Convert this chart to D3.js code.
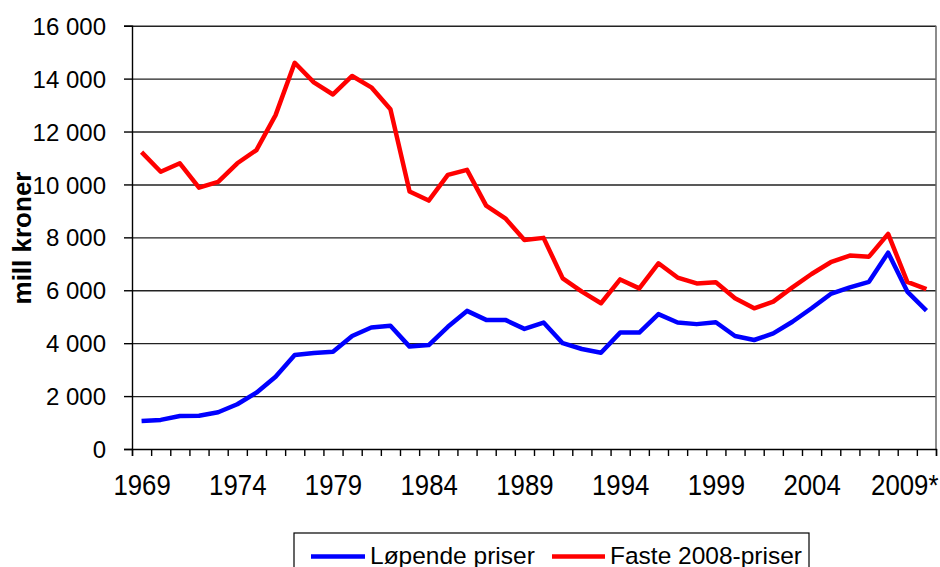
<!DOCTYPE html>
<html>
<head>
<meta charset="utf-8">
<script src="https://cdn.jsdelivr.net/npm/d3@7"></script>
<style>
  html, body { margin: 0; padding: 0; background: #fff; }
  svg { display: block; }
  text { font-family: "Liberation Sans", Arial, sans-serif; fill: #000; }
</style>
</head>
<body>
<svg id="chart" width="940" height="567"></svg>
<script>
const years = d3.range(1969, 2011);
const xTickLabels = ["1969", "1974", "1979", "1984", "1989", "1994", "1999", "2004", "2009*"];
const yTicks = [0, 2000, 4000, 6000, 8000, 10000, 12000, 14000, 16000];

const lopende = [1060, 1100, 1250, 1260, 1390, 1690, 2130, 2730, 3550, 3630,
  3680, 4270, 4590, 4660, 3870, 3930, 4620, 5220, 4880, 4880,
  4540, 4780, 4000, 3780, 3640, 4400, 4400, 5100, 4780, 4720,
  4790, 4270, 4120, 4370, 4810, 5320, 5860, 6110, 6320, 7420,
  5950, 5230];

const faste = [11220, 10480, 10800, 9880, 10100, 10800, 11300, 12620, 14600, 13860,
  13400, 14100, 13670, 12840, 9730, 9390, 10360, 10550, 9200, 8720,
  7900, 7980, 6450, 5950, 5510, 6410, 6070, 7020, 6480, 6260,
  6300, 5700, 5320, 5570, 6110, 6615, 7060, 7310, 7270, 8130,
  6320, 6040];

const seriesNames = ["Løpende priser", "Faste 2008-priser"];
const seriesColors = ["#0000ff", "#ff0000"];

(function () {
const svg = d3.select("#chart");
const pL = 132, pR = 936, pT = 25.7, pB = 449;

const x = d3.scaleLinear().domain([0, years.length]).range([pL, pR]);
const y = d3.scaleLinear().domain([0, 16000]).range([pB, pT]);

const locale = d3.formatLocale({ decimal: ",", thousands: " ", grouping: [3] });
const fmt = locale.format(",d");

// gridlines
svg.append("g")
  .attr("transform", `translate(${pL},0)`)
  .call(d3.axisLeft(y).tickValues(yTicks.filter(d => d > 0)).tickSize(-(pR - pL)).tickFormat(""))
  .call(g => g.select(".domain").remove())
  .call(g => g.selectAll("line").attr("stroke", "#222").attr("stroke-width", 1.4));

// right border
svg.append("line").attr("x1", pR).attr("x2", pR).attr("y1", pT).attr("y2", pB)
  .attr("stroke", "#666").attr("stroke-width", 1.5);

// y axis
svg.append("g")
  .attr("transform", `translate(${pL},0)`)
  .call(d3.axisLeft(y).tickValues(yTicks).tickSize(8).tickFormat(fmt).tickPadding(18))
  .call(g => g.select(".domain").attr("stroke", "#000").attr("stroke-width", 1.4))
  .call(g => g.selectAll("line").attr("stroke", "#000").attr("stroke-width", 1.4))
  .call(g => g.selectAll("text").style("font-size", "24px").attr("fill", "#000").attr("dy", "0.36em"));

// x axis ticks
svg.append("g")
  .attr("transform", `translate(0,${pB})`)
  .call(d3.axisBottom(x).tickValues(d3.range(0, years.length + 1)).tickSize(7).tickFormat(""))
  .call(g => g.select(".domain").attr("stroke", "#000").attr("stroke-width", 1.4))
  .call(g => g.selectAll("line").attr("stroke", "#000").attr("stroke-width", 1.4));

// x labels
const labelIdx = xTickLabels.map((d, i) => i * 5);
const sx = 0.86;
const xl = svg.append("g")
  .attr("transform", `translate(0,${pB})`)
  .call(d3.axisBottom(x).tickValues(labelIdx.map(i => i + 0.5)).tickSize(0).tickFormat((d, i) => xTickLabels[i]))
  .call(g => g.select(".domain").remove());
xl.selectAll(".tick text")
  .style("font-size", "30px")
  .attr("dy", 0)
  .attr("y", 0)
  .attr("fill", "#000")
  .attr("transform", `translate(0,46) scale(${sx},1)`)
  .attr("text-anchor", "middle");
// last label is pushed inside the chart edge, as in the original
const lastVal = labelIdx[labelIdx.length - 1] + 0.5;
xl.selectAll(".tick text").filter(d => d === lastVal)
  .attr("text-anchor", "end")
  .attr("x", (938 - x(lastVal)) / sx);

// lines
const line = d3.line().x((d, i) => x(i + 0.5)).y(d => y(d));
[lopende, faste].forEach((s, k) => {
  svg.append("path").datum(s)
    .attr("fill", "none")
    .attr("stroke", seriesColors[k])
    .attr("stroke-width", 4.5)
    .attr("stroke-linejoin", "round")
    .attr("d", line);
});

// y title
svg.append("text")
  .attr("transform", "translate(31,238) rotate(-90)")
  .attr("text-anchor", "middle")
  .style("font-size", "26px")
  .style("font-weight", "bold")
  .text("mill kroner");

// legend
const lg = svg.append("g");
lg.append("rect").attr("x", 294).attr("y", 533).attr("width", 515).attr("height", 60)
  .attr("fill", "#fff").attr("stroke", "#000").attr("stroke-width", 1.2);
const legX = [[311, 365, 370], [552, 605, 610]];
seriesNames.forEach((n, k) => {
  lg.append("line").attr("x1", legX[k][0]).attr("x2", legX[k][1]).attr("y1", 556.5).attr("y2", 556.5)
    .attr("stroke", seriesColors[k]).attr("stroke-width", 4.5);
  lg.append("text").attr("x", legX[k][2]).attr("y", 564).style("font-size", "24.5px").text(n);
});
})();
</script>
</body>
</html>
